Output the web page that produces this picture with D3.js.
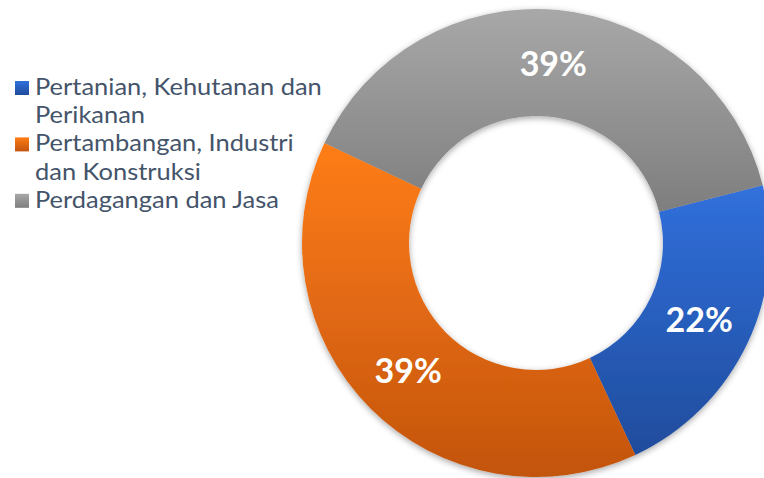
<!DOCTYPE html>
<html>
<head>
<meta charset="utf-8">
<script src="https://cdn.jsdelivr.net/npm/d3@7"></script>
<style>
  body { margin: 0; background: #fff; }
  .legendtext { font-family: Lato, sans-serif; fill: #44546a; }
  .pctlabel { font-family: Lato, sans-serif; font-weight: bold; fill: #fff; }
</style>
</head>
<body>
<svg id="chart" width="764" height="478"></svg>
<script>
// data
var sectors = ["Pertanian, Kehutanan dan Perikanan", "Pertambangan, Industri dan Konstruksi", "Perdagangan dan Jasa"];
var legendLines = [["Pertanian, Kehutanan dan", "Perikanan"], ["Pertambangan, Industri", "dan Konstruksi"], ["Perdagangan dan Jasa"]];
var shares = [22, 39, 39];
var pctLabels = ["22%", "39%", "39%"];
var topColors = ["#3170dc", "#ff7d14", "#a8a8a8"];
var bottomColors = ["#1f4c9c", "#c35410", "#7e7e7e"];

var svg = d3.select("#chart");
var cx = 536, cy = 243;
var outerR = 234, innerR = 127;

var defs = svg.append("defs");

sectors.forEach(function(d, i) {
  var g = defs.append("linearGradient")
    .attr("id", "grad" + i)
    .attr("x1", 0).attr("y1", 0).attr("x2", 0).attr("y2", 1);
  g.append("stop").attr("offset", "0%").attr("stop-color", topColors[i]);
  g.append("stop").attr("offset", "100%").attr("stop-color", bottomColors[i]);
});

var shadow = defs.append("filter")
  .attr("id", "shadow")
  .attr("x", "-10%").attr("y", "-10%")
  .attr("width", "120%").attr("height", "120%");
shadow.append("feDropShadow")
  .attr("dx", 0).attr("dy", 2)
  .attr("stdDeviation", 3)
  .attr("flood-color", "#000")
  .attr("flood-opacity", 0.35);

// donut
var startDeg = 75.7;
var pie = d3.pie()
  .sort(null)
  .value(function(d) { return d; })
  .startAngle(startDeg * Math.PI / 180)
  .endAngle((startDeg + 360) * Math.PI / 180);

var arc = d3.arc().innerRadius(innerR).outerRadius(outerR);
var labelArc = d3.arc().innerRadius((innerR + outerR) / 2).outerRadius((innerR + outerR) / 2);

var donut = svg.append("g")
  .attr("transform", "translate(" + cx + "," + cy + ")");

donut.append("g")
  .attr("filter", "url(#shadow)")
  .selectAll("path")
  .data(pie(shares))
  .enter()
  .append("path")
    .attr("d", arc)
    .attr("fill", function(d, i) { return "url(#grad" + i + ")"; });

donut.selectAll("text")
  .data(pie(shares))
  .enter()
  .append("text")
    .attr("class", "pctlabel")
    .attr("transform", function(d) { return "translate(" + labelArc.centroid(d) + ")"; })
    .attr("text-anchor", "middle")
    .attr("dy", "0.36em")
    .style("font-size", "34px")
    .text(function(d, i) { return pctLabels[i]; });

// legend
var legendX = 15, textX = 35;
var lineHeight = 28.2;
var firstBaseline = 95;

var legend = svg.append("g");
var lineIndex = 0;
legendLines.forEach(function(lines, i) {
  var baseY = firstBaseline + lineIndex * lineHeight;
  legend.append("rect")
    .attr("x", legendX)
    .attr("y", baseY - 14)
    .attr("width", 14)
    .attr("height", 14)
    .attr("fill", "url(#grad" + i + ")");
  lines.forEach(function(line, j) {
    legend.append("text")
      .attr("class", "legendtext")
      .attr("x", textX)
      .attr("y", firstBaseline + (lineIndex + j) * lineHeight)
      .style("font-size", "24px")
      .text(line);
  });
  lineIndex += lines.length;
});

// squeeze the legend text horizontally to the original's narrow face
var first = legend.select("text").node();
var k = 287 / first.getComputedTextLength();
legend.selectAll("text")
  .attr("transform", function() {
    return "translate(" + textX + ",0) scale(" + k + ",1) translate(" + (-textX) + ",0)";
  });
</script>
</body>
</html>
